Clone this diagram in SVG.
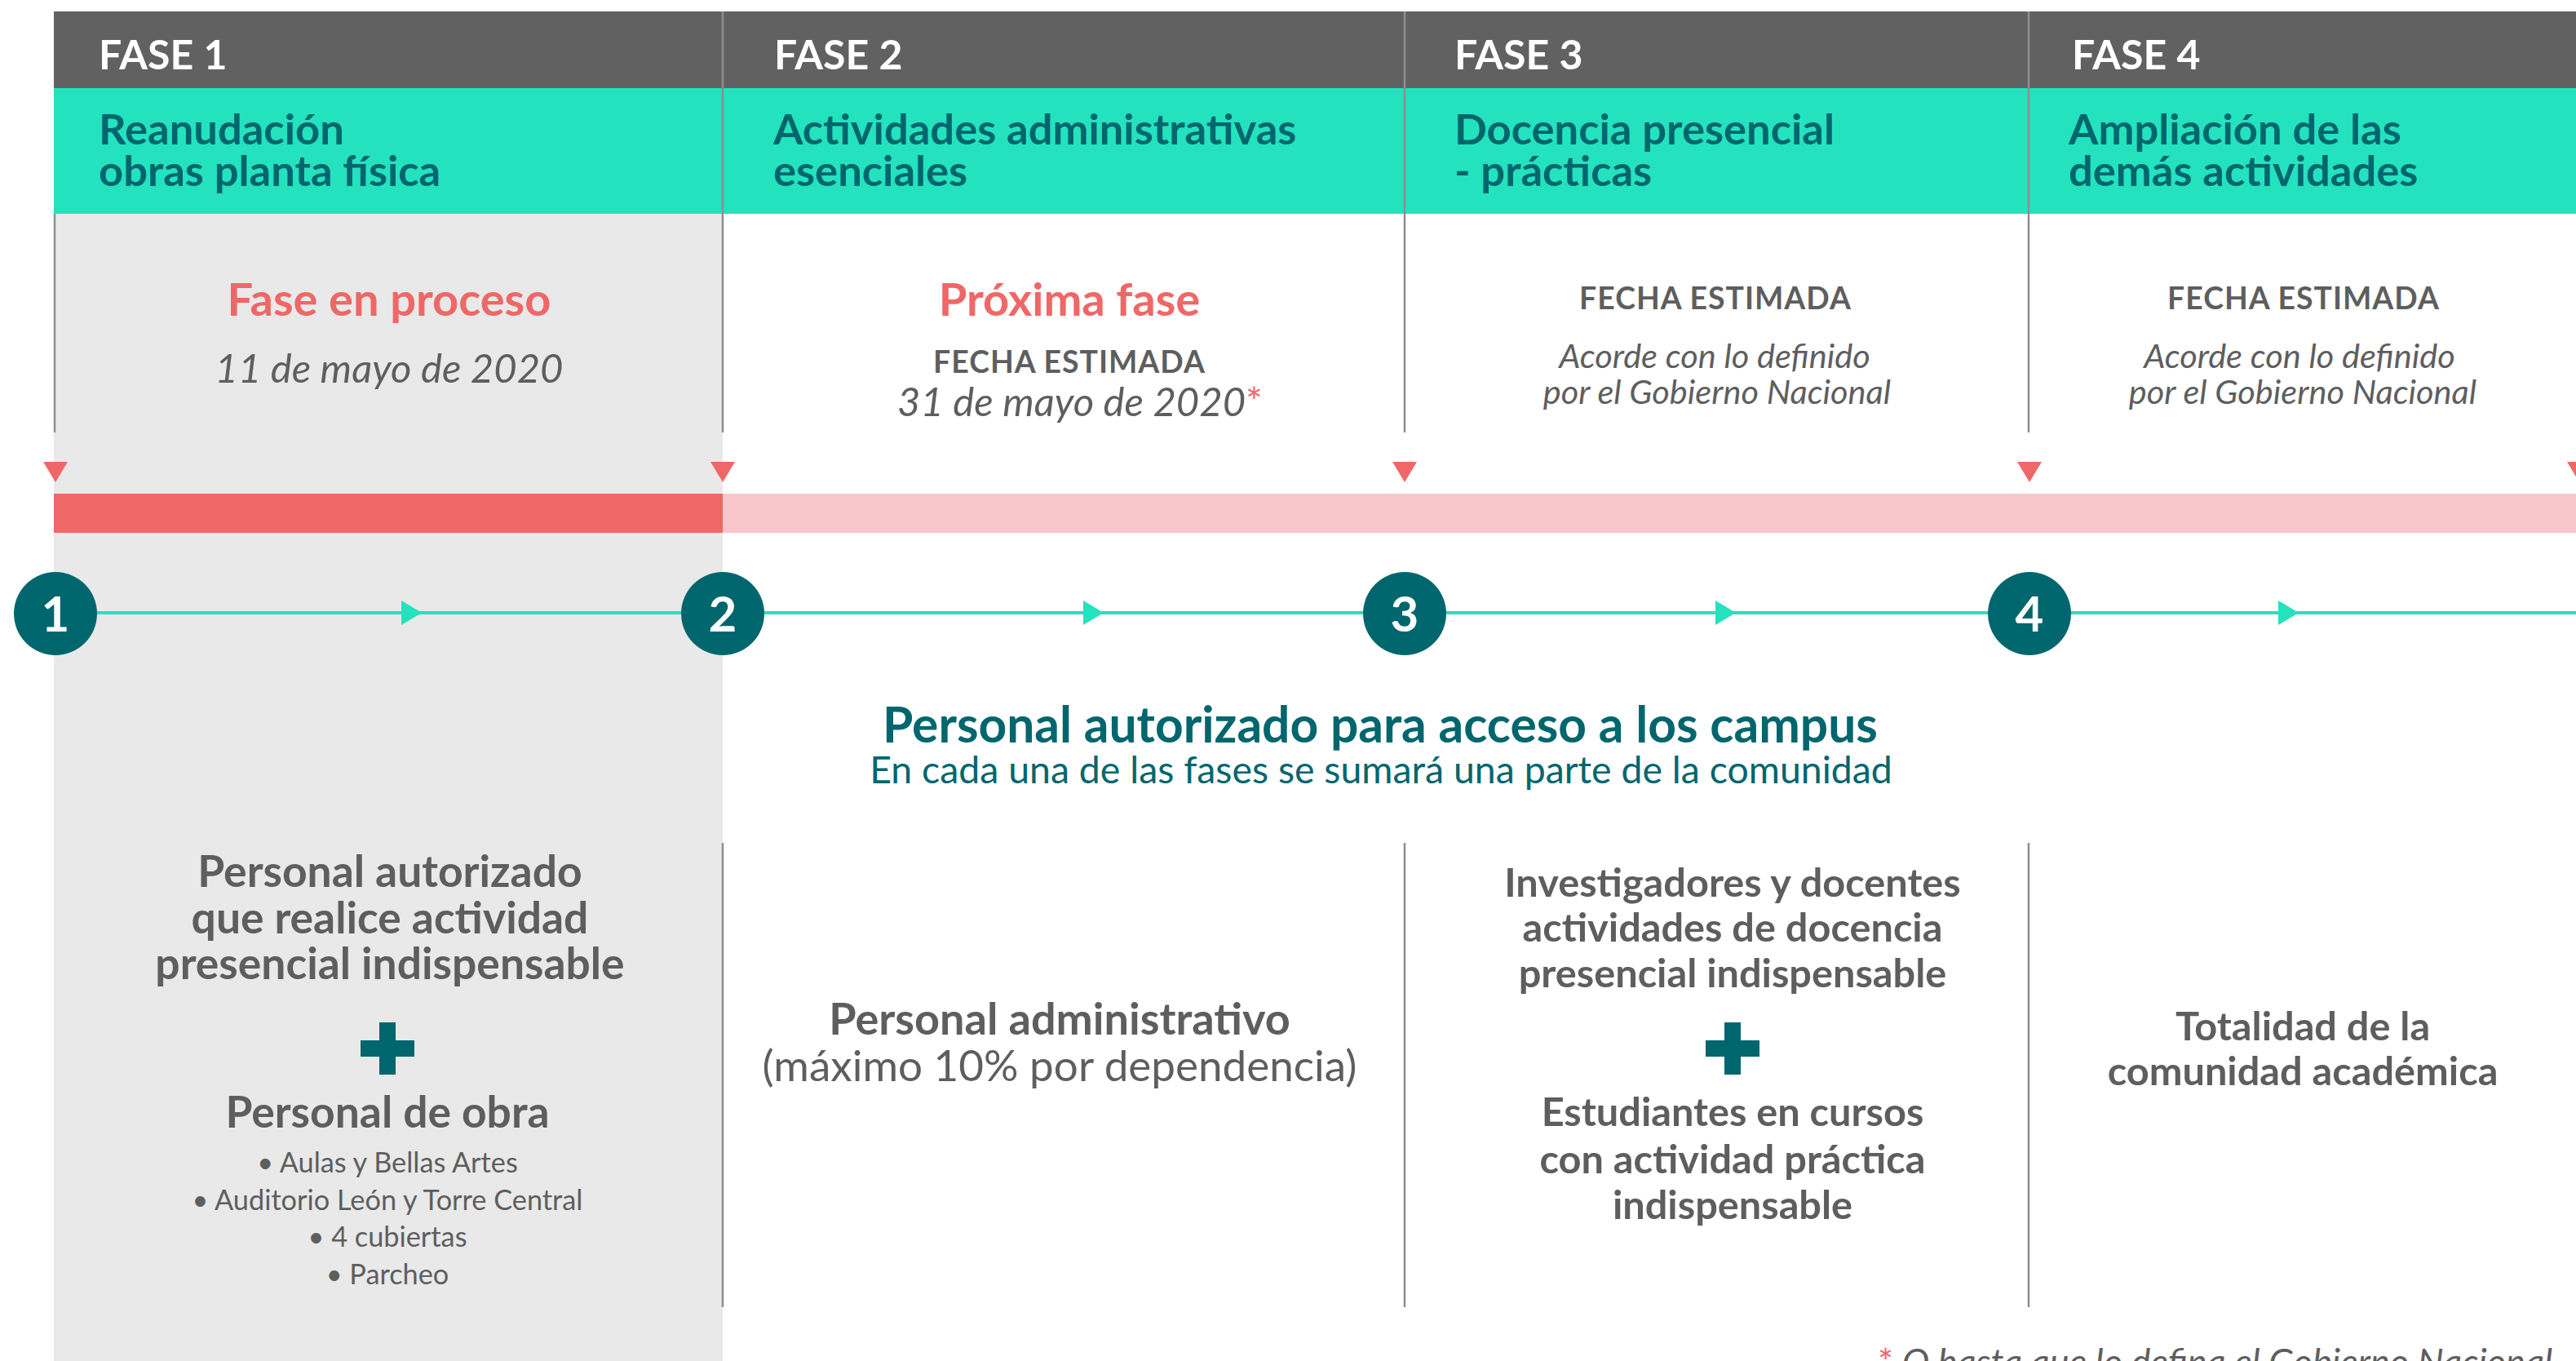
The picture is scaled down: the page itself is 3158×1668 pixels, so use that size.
<svg xmlns="http://www.w3.org/2000/svg" width="3158" height="1668" viewBox="0 0 3158 1668">
<style>
  text { font-family: Lato, "Liberation Sans", sans-serif; }
  .fase { fill: #ffffff; font-weight: 700; font-size: 50px; }
  .title { fill: #00666E; font-weight: 700; font-size: 52.5px; }
  .red { fill: #F06767; font-weight: 700; font-size: 56px; text-anchor: middle; }
  .date { fill: #5E5E5E; font-style: italic; font-size: 49px; text-anchor: middle; }
  .fecha { fill: #5E5E5E; font-weight: 700; font-size: 37.4px; text-anchor: middle; letter-spacing: 1px; }
  .note { fill: #5E5E5E; font-style: italic; font-size: 41.5px; text-anchor: middle; }
  .div { stroke: #8E8E8E; stroke-width: 2.5; fill: none; }
  .num { fill: #ffffff; font-weight: 700; font-size: 60px; text-anchor: middle; }
  .big1 { fill: #5E5E5E; font-weight: 700; font-size: 53.4px; text-anchor: middle; }
  .big { fill: #5E5E5E; font-weight: 700; font-size: 48.7px; text-anchor: middle; }
  .big2 { fill: #5E5E5E; font-weight: 700; font-size: 54px; text-anchor: middle; }
  .reg { fill: #5E5E5E; font-size: 53px; text-anchor: middle; }
  .bul { fill: #5E5E5E; font-size: 34.3px; text-anchor: middle; }
  .mid { fill: #00666E; font-weight: 700; font-size: 60.5px; text-anchor: middle; }
  .midsub { fill: #00666E; font-size: 46.4px; text-anchor: middle; }
  .circ { fill: #00666E; }
  .plus { fill: #00666E; }
  .tri { fill: #F06767; }
  .conn { stroke: #24E2BE; stroke-width: 4; fill: none; marker-mid: url(#arr); }
</style>
<defs>
  <marker id="arr" markerUnits="userSpaceOnUse" markerWidth="26" markerHeight="30" refX="25" refY="15" orient="auto" viewBox="0 0 26 30">
    <path d="M0,0 L25,15 L0,30 Z" fill="#24E2BE"/>
  </marker>
  <path id="plus" d="M-10,-32 H10 V-10 H33 V10 H10 V32 H-10 V10 H-33 V-10 H-10 Z"/>
  <path id="rtri" d="M-15,0 H15 L0,25 Z"/>
</defs>

<rect width="3158" height="1668" fill="#ffffff"/>

<g id="backgrounds">
  <rect x="66" y="262" width="820" height="1406" fill="#E9E9E9"/>
  <rect x="66" y="14" width="3092" height="94" fill="#616161"/>
  <rect x="66" y="108" width="3092" height="154" fill="#24E2BE"/>
</g>

<g id="dividers">
  <line class="div" x1="886" y1="14" x2="886" y2="262"/>
  <line class="div" x1="1722" y1="14" x2="1722" y2="262"/>
  <line class="div" x1="2487" y1="14" x2="2487" y2="262"/>
  <line class="div" x1="67" y1="262" x2="67" y2="530"/>
  <line class="div" x1="886" y1="262" x2="886" y2="530"/>
  <line class="div" x1="1722" y1="262" x2="1722" y2="530"/>
  <line class="div" x1="2487" y1="262" x2="2487" y2="530"/>
  <line class="div" x1="886" y1="1033" x2="886" y2="1602"/>
  <line class="div" x1="1722" y1="1033" x2="1722" y2="1602"/>
  <line class="div" x1="2487" y1="1033" x2="2487" y2="1602"/>
</g>

<g id="phase1-header">
  <text class="fase" x="121" y="85">FASE 1</text>
  <text class="title"><tspan x="121" y="177">Reanudación</tspan><tspan x="121" y="228">obras planta física</tspan></text>
</g>
<g id="phase2-header">
  <text class="fase" x="949" y="85">FASE 2</text>
  <text class="title"><tspan x="948" y="177">Actividades administrativas</tspan><tspan x="948" y="228">esenciales</tspan></text>
</g>
<g id="phase3-header">
  <text class="fase" x="1783" y="85">FASE 3</text>
  <text class="title"><tspan x="1783" y="177">Docencia presencial</tspan><tspan x="1783" y="228">- prácticas</tspan></text>
</g>
<g id="phase4-header">
  <text class="fase" x="2540" y="85">FASE 4</text>
  <text class="title"><tspan x="2536" y="177">Ampliación de las</tspan><tspan x="2536" y="228">demás actividades</tspan></text>
</g>

<g id="phase1-date">
  <text class="red" x="477" y="387">Fase en proceso</text>
  <text class="date" x="477" y="469">11 de mayo de 2020</text>
</g>
<g id="phase2-date">
  <text class="red" x="1311" y="387">Próxima fase</text>
  <text class="fecha" x="1311" y="457">FECHA ESTIMADA</text>
  <text class="date" x="1324" y="510">31 de mayo de 2020<tspan fill="#F06767" font-style="normal">*</tspan></text>
</g>
<g id="phase3-date">
  <text class="fecha" x="2103" y="379">FECHA ESTIMADA</text>
  <text class="note"><tspan x="2102" y="451">Acorde con lo definido</tspan><tspan x="2105" y="495">por el Gobierno Nacional</tspan></text>
</g>
<g id="phase4-date">
  <text class="fecha" x="2824" y="379">FECHA ESTIMADA</text>
  <text class="note"><tspan x="2819" y="451">Acorde con lo definido</tspan><tspan x="2823" y="495">por el Gobierno Nacional</tspan></text>
</g>

<g id="markers">
  <use href="#rtri" class="tri" x="68" y="566"/>
  <use href="#rtri" class="tri" x="886" y="566"/>
  <use href="#rtri" class="tri" x="1722" y="566"/>
  <use href="#rtri" class="tri" x="2488" y="566"/>
  <use href="#rtri" class="tri" x="3162" y="566"/>
</g>

<g id="progress-bar">
  <rect x="66" y="605" width="820" height="48" fill="#F06767"/>
  <rect x="886" y="605" width="2272" height="48" fill="#F7C6CA"/>
</g>

<g id="connectors">
  <path class="conn" d="M118,751 L517,751 L836,751"/>
  <path class="conn" d="M936,751 L1353,751 L1672,751"/>
  <path class="conn" d="M1772,751 L2128,751 L2438,751"/>
  <path class="conn" d="M2538,751 L2818,751 L3158,751"/>
</g>

<g id="step1">
  <circle class="circ" cx="68" cy="752" r="51"/>
  <text class="num" x="68" y="774">1</text>
</g>
<g id="step2">
  <circle class="circ" cx="886" cy="752" r="51"/>
  <text class="num" x="886" y="774">2</text>
</g>
<g id="step3">
  <circle class="circ" cx="1722" cy="752" r="51"/>
  <text class="num" x="1722" y="774">3</text>
</g>
<g id="step4">
  <circle class="circ" cx="2488" cy="752" r="51"/>
  <text class="num" x="2488" y="774">4</text>
</g>

<g id="access-title">
  <text class="mid" x="1692" y="910">Personal autorizado para acceso a los campus</text>
  <text class="midsub" x="1693" y="960">En cada una de las fases se sumará una parte de la comunidad</text>
</g>

<g id="phase1-personnel">
  <text class="big1"><tspan x="478" y="1087">Personal autorizado</tspan><tspan x="478" y="1144">que realice actividad</tspan><tspan x="478" y="1200">presencial indispensable</tspan></text>
  <use href="#plus" class="plus" x="475" y="1285"/>
  <text class="big1" x="475" y="1382">Personal de obra</text>
  <text class="bul"><tspan x="475" y="1437">• Aulas y Bellas Artes</tspan><tspan x="475" y="1483">• Auditorio León y Torre Central</tspan><tspan x="475" y="1528">• 4 cubiertas</tspan><tspan x="475" y="1574">• Parcheo</tspan></text>
</g>

<g id="phase2-personnel">
  <text class="big2" x="1299" y="1268">Personal administrativo</text>
  <text class="reg" x="1299" y="1325">(máximo 10% por dependencia)</text>
</g>

<g id="phase3-personnel">
  <text class="big"><tspan x="2124" y="1099">Investigadores y docentes</tspan><tspan x="2124" y="1154">actividades de docencia</tspan><tspan x="2124" y="1210">presencial indispensable</tspan></text>
  <use href="#plus" class="plus" x="2124" y="1285"/>
  <text class="big"><tspan x="2124" y="1380">Estudiantes en cursos</tspan><tspan x="2124" y="1438">con actividad práctica</tspan><tspan x="2124" y="1494">indispensable</tspan></text>
</g>

<g id="phase4-personnel">
  <text class="big"><tspan x="2823" y="1275">Totalidad de la</tspan><tspan x="2823" y="1330">comunidad académica</tspan></text>
</g>

<g id="footnote">
  <text x="2302" y="1685" style="fill:#5E5E5E; font-style:italic; font-size:45px;"><tspan fill="#F06767" font-style="normal">*</tspan> O hasta que lo defina el Gobierno Nacional</text>
</g>
</svg>
